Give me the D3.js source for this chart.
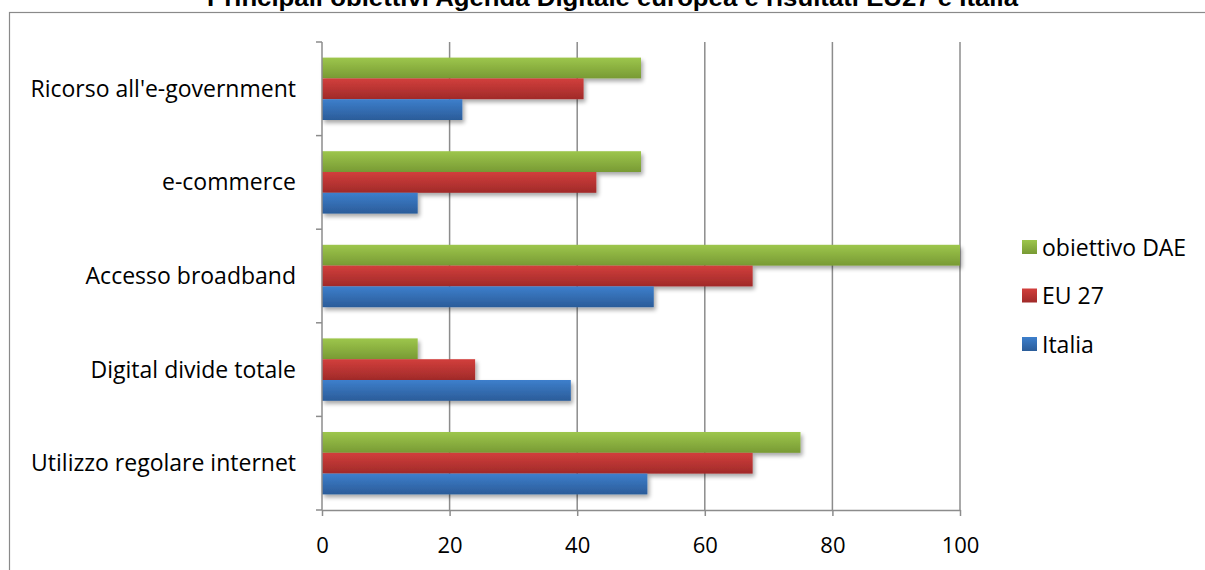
<!DOCTYPE html>
<html>
<head>
<meta charset="utf-8">
<script src="https://cdn.jsdelivr.net/npm/d3@7/dist/d3.min.js"></script>
<style>
  html, body { margin: 0; padding: 0; background: #fff; }
  svg { display: block; }
</style>
</head>
<body>
<svg id="chart" width="1205" height="570"></svg>
<script>
// Categories, top to bottom
const categories = [
  "Ricorso all'e-government",
  "e-commerce",
  "Accesso broadband",
  "Digital divide totale",
  "Utilizzo regolare internet"
];
// Series (legend order, also top-to-bottom within each group)
const seriesNames = ["obiettivo DAE", "EU 27", "Italia"];
const obiettivoDAE = [50, 50, 100, 15, 75];
const eu27 = [41, 43, 67.5, 24, 67.5];
const italia = [22, 15, 52, 39, 51];
const xTicks = [0, 20, 40, 60, 80, 100];
const title = "Principali obiettivi Agenda Digitale europea e risultati EU27 e Italia";

const seriesValues = [obiettivoDAE, eu27, italia];
const palette = [
  { top: "#9dc64c", bottom: "#789a34" },
  { top: "#d23f3c", bottom: "#a02a29" },
  { top: "#3d7fcc", bottom: "#2b5c99" }
];
const labelFont = "Open Sans, sans-serif";

const svg = d3.select("#chart");
const defs = svg.append("defs");

palette.forEach((c, i) => {
  const g = defs.append("linearGradient")
    .attr("id", "grad" + i).attr("x1", 0).attr("y1", 0).attr("x2", 0).attr("y2", 1);
  g.append("stop").attr("offset", "0%").attr("stop-color", c.top);
  g.append("stop").attr("offset", "100%").attr("stop-color", c.bottom);
});

const shadow = defs.append("filter").attr("id", "shadow")
  .attr("x", "-5%").attr("y", "-20%").attr("width", "115%").attr("height", "160%");
shadow.append("feGaussianBlur").attr("in", "SourceAlpha").attr("stdDeviation", 2.2);
shadow.append("feOffset").attr("dx", 2).attr("dy", 3).attr("result", "ob");
shadow.append("feComponentTransfer").append("feFuncA").attr("type", "linear").attr("slope", 0.35);
const merge = shadow.append("feMerge");
merge.append("feMergeNode");
merge.append("feMergeNode").attr("in", "SourceGraphic");

// Outer frame
svg.append("rect")
  .attr("x", 9.5).attr("y", 12.5).attr("width", 1200).attr("height", 570)
  .attr("fill", "none").attr("stroke", "#8a8a8a").attr("stroke-width", 1.2);

// Title (runs off the top edge of the frame area)
svg.append("text")
  .attr("x", 207).attr("y", 6)
  .attr("font-family", "Liberation Sans, Arial, sans-serif")
  .attr("font-weight", "bold").attr("font-size", 24)
  .attr("textLength", 811).attr("lengthAdjust", "spacingAndGlyphs")
  .attr("fill", "#000")
  .text(title);

const plot = { left: 322, right: 960, top: 42, bottom: 510 };

const x = d3.scaleLinear().domain([0, 100]).range([plot.left, plot.right]);
const pad = 1 / 3;
const y = d3.scaleBand().domain(categories)
  .range([plot.top, plot.bottom]).paddingInner(pad).paddingOuter(pad / 2);
const ySub = d3.scaleBand().domain(seriesNames).range([0, y.bandwidth()]);

// Vertical gridlines
svg.append("g").selectAll("line")
  .data(xTicks.filter(d => d > 0)).join("line")
  .attr("x1", d => x(d)).attr("x2", d => x(d))
  .attr("y1", plot.top).attr("y2", plot.bottom)
  .attr("stroke", "#8c8c8c").attr("stroke-width", 1.5);

// Bars
const groups = svg.append("g").selectAll("g")
  .data(categories).join("g")
  .attr("transform", d => `translate(0,${y(d)})`);

groups.selectAll("rect")
  .data((c, ci) => seriesNames.map((s, si) => ({ s, si, v: seriesValues[si][ci] })))
  .join("rect")
  .attr("x", x(0))
  .attr("y", d => ySub(d.s))
  .attr("width", d => x(d.v) - x(0))
  .attr("height", ySub.bandwidth())
  .attr("fill", d => `url(#grad${d.si})`)
  .attr("filter", "url(#shadow)");

// Category axis (left)
const yAxisG = svg.append("g");
const catBounds = d3.range(categories.length + 1).map(i => plot.top + i * y.step());
yAxisG.append("line")
  .attr("x1", plot.left).attr("x2", plot.left)
  .attr("y1", plot.top).attr("y2", plot.bottom)
  .attr("stroke", "#8c8c8c").attr("stroke-width", 1.5);
yAxisG.selectAll("line.tick").data(catBounds).join("line")
  .attr("class", "tick")
  .attr("x1", plot.left - 6).attr("x2", plot.left)
  .attr("y1", d => d).attr("y2", d => d)
  .attr("stroke", "#8c8c8c").attr("stroke-width", 1.5);
yAxisG.selectAll("text").data(categories).join("text")
  .attr("x", 296)
  .attr("y", d => y(d) + y.bandwidth() / 2 + 8)
  .attr("text-anchor", "end")
  .attr("font-family", labelFont)
  .attr("font-size", 23)
  .attr("fill", "#000")
  .text(d => d);

// Value axis (bottom)
const xAxisG = svg.append("g").attr("transform", `translate(0,${plot.bottom})`);
xAxisG.call(d3.axisBottom(x).tickValues(xTicks).tickSize(6).tickSizeOuter(0).tickFormat(d3.format("d")));
xAxisG.select(".domain").attr("stroke", "#8c8c8c").attr("stroke-width", 1.5);
xAxisG.selectAll(".tick line").attr("stroke", "#8c8c8c").attr("stroke-width", 1.5);
xAxisG.selectAll(".tick text")
  .attr("y", 43).attr("dy", null)
  .attr("font-family", labelFont)
  .attr("font-size", 22)
  .attr("fill", "#000");

// Legend
const legend = svg.append("g").attr("transform", "translate(1022,247)");
const leg = legend.selectAll("g").data(seriesNames).join("g")
  .attr("transform", (d, i) => `translate(0,${i * 48.5})`);
leg.append("rect")
  .attr("x", 0).attr("y", -7).attr("width", 15).attr("height", 14)
  .attr("fill", (d, i) => `url(#grad${i})`);
leg.append("text")
  .attr("x", 20).attr("y", 8.5)
  .attr("font-family", labelFont)
  .attr("font-size", 23)
  .attr("fill", "#000")
  .text(d => d);
</script>
</body>
</html>
